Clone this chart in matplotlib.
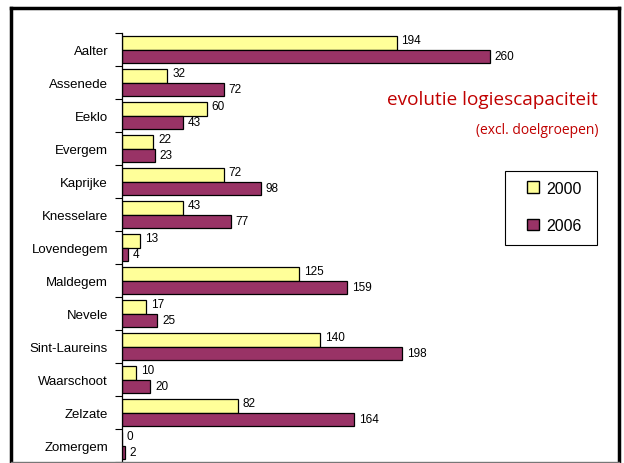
import matplotlib.pyplot as plt
import numpy as np
from matplotlib.lines import Line2D
from matplotlib.patches import Patch, Rectangle

gemeenten = ["Aalter", "Assenede", "Eeklo", "Evergem", "Kaprijke", "Knesselare",
             "Lovendegem", "Maldegem", "Nevele", "Sint-Laureins", "Waarschoot",
             "Zelzate", "Zomergem"]
cap_2000 = [194, 32, 60, 22, 72, 43, 13, 125, 17, 140, 10, 82, 0]
cap_2006 = [260, 72, 43, 23, 98, 77, 4, 159, 25, 198, 20, 164, 2]

geel = "#FFFF99"
paars = "#993366"
rood = "#C00000"

plt.rcParams['font.family'] = ['Liberation Sans', 'DejaVu Sans']

fig = plt.figure(figsize=(6.24, 4.64), dpi=100)
ax = fig.add_axes([122/624, 1/464, (613-122)/624, (463-34)/464])

n = len(gemeenten)
y = np.arange(n)
h = 0.41
ax.barh(y - h/2, cap_2000, height=h, color=geel, edgecolor="black", linewidth=0.9)
ax.barh(y + h/2, cap_2006, height=h, color=paars, edgecolor="black", linewidth=0.9)

for i in range(n):
    ax.annotate(str(cap_2000[i]), (cap_2000[i], y[i] - h/2), xytext=(3.5, 2),
                textcoords="offset points", va="center", ha="left", fontsize=8.5)
    ax.annotate(str(cap_2006[i]), (cap_2006[i], y[i] + h/2), xytext=(3.5, 0),
                textcoords="offset points", va="center", ha="left", fontsize=8.5)

ax.set_ylim(n - 0.5, -0.5)
ax.set_xlim(0, 347)
ax.set_yticks(y)
ax.set_yticklabels(gemeenten, fontsize=9.5)
ax.set_yticks(np.arange(n + 1) - 0.5, minor=True)
ax.tick_params(axis="y", which="major", length=0, pad=10)
ax.tick_params(axis="y", which="minor", length=5, width=0.8, direction="out")
ax.set_xticks([])
for s in ["top", "right", "bottom"]:
    ax.spines[s].set_visible(False)
ax.spines["left"].set_linewidth(0.9)

fig.text(598/624, 1 - 100/464, "evolutie logiescapaciteit", color=rood,
         fontsize=13.7, ha="right", va="center", family=["Open Sans", "DejaVu Sans"])
fig.text(598/624, 1 - 130/464, "(excl. doelgroepen)", color=rood,
         fontsize=10, ha="right", va="center", family=["Open Sans", "DejaVu Sans"])

# legende met eigen kader
fig.add_artist(Rectangle((505/624, 1 - 246/464), 92/624, 74/464, transform=fig.transFigure,
                         facecolor="white", edgecolor="black", linewidth=0.8))
handles = [Patch(facecolor=geel, edgecolor="black", label="2000"),
           Patch(facecolor=paars, edgecolor="black", label="2006")]
leg = fig.legend(handles=handles, loc="center",
                 bbox_to_anchor=(554/624, 1 - 208/464), fontsize=11.5,
                 frameon=False, handlelength=0.75, handleheight=0.75,
                 handletextpad=0.45, labelspacing=1.4, borderpad=0, borderaxespad=0)

# kader rond de figuur
fig.add_artist(Line2D([11/624, 11/624], [0, 1 - 9/464], color="black", lw=2.5))
fig.add_artist(Line2D([11/624, 619/624], [1 - 9/464, 1 - 9/464], color="black", lw=2.5))
fig.add_artist(Line2D([619/624, 619/624], [0, 1 - 9/464], color="black", lw=2.5))
fig.add_artist(Line2D([11/624, 619/624], [1/464, 1/464], color="#777777", lw=1))

fig.savefig("out.png", dpi=100)
